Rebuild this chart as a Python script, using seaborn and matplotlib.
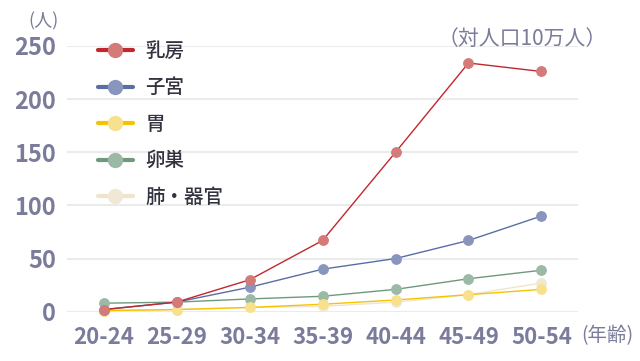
import matplotlib
matplotlib.use("Agg")
import matplotlib.pyplot as plt
from matplotlib.lines import Line2D
import seaborn as sns
import pandas as pd

ages = ["20-24", "25-29", "30-34", "35-39", "40-44", "45-49", "50-54"]
breast = [2, 9, 30, 67, 150, 234, 226]
uterus = [2, 9, 23, 40, 50, 67, 90]
stomach = [1, 2, 4, 7, 11, 16, 21]
ovary = [8, 9, 12, 14.5, 21, 31, 39]
lung = [1, 2, 4, 5, 9, 16, 27]
names = ["乳房", "子宮", "胃", "卵巣", "肺・器官"]
yticks = [0, 50, 100, 150, 200, 250]

series = [breast, uterus, stomach, ovary, lung]
line_colors = ["#c0282d", "#5a6ea3", "#f5c400", "#6e9a7c", "#efe5cc"]
marker_colors = ["#d47a79", "#8896bd", "#f8e18c", "#9bb9a5", "#f0e8d5"]

sns.set_theme(style="white")
plt.rcParams['font.family'] = ['Noto Sans CJK JP', 'DejaVu Sans']

fig = plt.figure(figsize=(6.4, 3.61), dpi=100)
ax = fig.add_axes([0.105, 0.1366, 0.798, 0.736])

for name, vals, lc, mc in reversed(list(zip(names, series, line_colors, marker_colors))):
    df = pd.DataFrame({"age": ages, "value": vals})
    sns.lineplot(data=df, x="age", y="value", ax=ax, color=lc, linewidth=1.0,
                 marker="o", markersize=7, markerfacecolor=mc,
                 markeredgecolor=mc, sort=False, clip_on=False)

ax.set_xlim(-0.5, 6.5)
ax.set_ylim(0, 250)
ax.set_yticks(yticks)
ax.set_yticklabels([str(t) for t in yticks])
ax.set_xlabel("")
ax.set_ylabel("")
ax.grid(axis="y", color="#ebebeb", linewidth=1.5)
ax.set_axisbelow(True)
for s in ax.spines.values():
    s.set_visible(False)
tick_color = "#7b7b9b"
ax.tick_params(axis="y", length=0, pad=8, labelsize=17, labelcolor=tick_color)
ax.tick_params(axis="x", length=0, pad=10, labelsize=16, labelcolor=tick_color)
for lab in ax.get_xticklabels() + ax.get_yticklabels():
    lab.set_fontweight("bold")

handles = [Line2D([0], [0], color=lc, linewidth=3, marker="o", markersize=10,
                  markerfacecolor=mc, markeredgecolor=mc)
           for lc, mc in zip(line_colors, marker_colors)]
leg = ax.legend(handles, names, loc="upper left", bbox_to_anchor=(0.045, 1.045),
                frameon=False, fontsize=14, handlelength=1.8, handletextpad=0.65,
                labelspacing=0.9, borderaxespad=0)
for t in leg.get_texts():
    t.set_color("#333340")
    t.set_fontweight("medium")

fig.text(0.068, 0.94, "(人)", fontsize=13, color=tick_color, ha="center", va="center")
fig.text(0.816, 0.893, "（対人口10万人）", fontsize=15, color=tick_color, ha="center", va="center")
fig.text(0.949, 0.07, "(年齢)", fontsize=14, color=tick_color, ha="center", va="center")

fig.savefig("out.png", dpi=100)
